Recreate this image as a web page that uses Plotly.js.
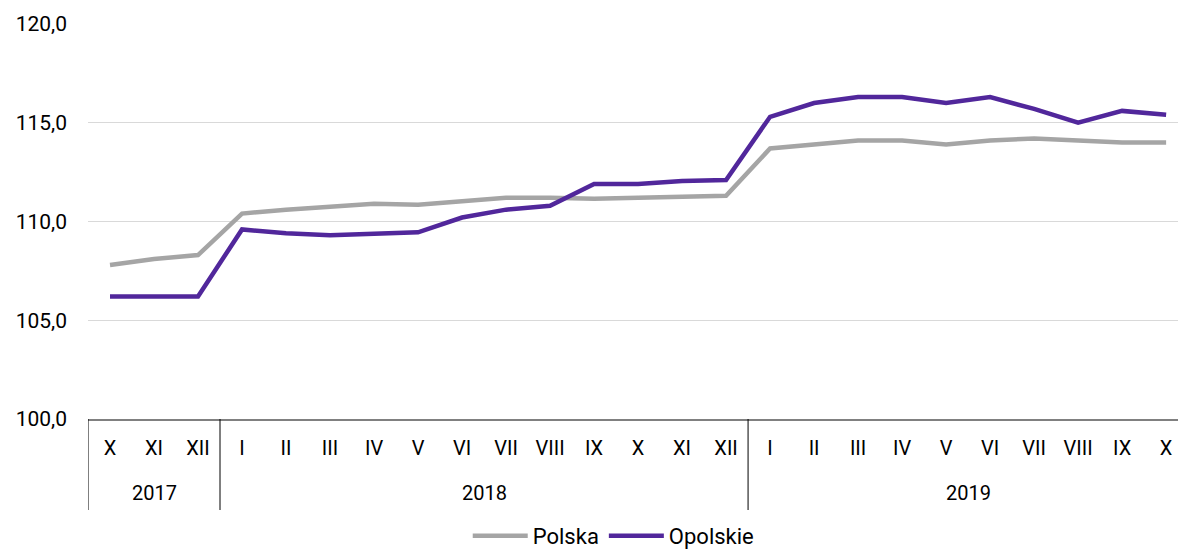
<!DOCTYPE html>
<html>
<head>
<meta charset="utf-8">
<script src="https://cdn.plot.ly/plotly-3.0.1.min.js"></script>
<style>
  html, body { margin: 0; padding: 0; background: #ffffff; }
  #chart { width: 1178px; height: 557px; }
</style>
</head>
<body>
<div id="chart"></div>
<script>
// Data
const yearLabels = ['2017','2017','2017',
  '2018','2018','2018','2018','2018','2018','2018','2018','2018','2018','2018','2018',
  '2019','2019','2019','2019','2019','2019','2019','2019','2019','2019'];
const monthLabels = ['X','XI','XII',
  'I','II','III','IV','V','VI','VII','VIII','IX','X','XI','XII',
  'I','II','III','IV','V','VI','VII','VIII','IX','X'];
const polska = [107.8, 108.1, 108.3,
  110.4, 110.6, 110.75, 110.9, 110.85, 111.05, 111.2, 111.2, 111.15, 111.2, 111.25, 111.3,
  113.7, 113.9, 114.1, 114.1, 113.9, 114.1, 114.2, 114.1, 114.0, 114.0];
const opolskie = [106.2, 106.2, 106.2,
  109.6, 109.4, 109.3, 109.4, 109.45, 110.2, 110.6, 110.8, 111.9, 111.9, 112.05, 112.1,
  115.3, 116.0, 116.3, 116.3, 116.0, 116.3, 115.7, 115.0, 115.6, 115.4];
const seriesNames = ['Polska', 'Opolskie'];

const FONT = 'Roboto, "Noto Sans", sans-serif';
const idx = monthLabels.map((_, i) => i);

// Year groups: boundaries and centres derived from yearLabels
const groups = [];
yearLabels.forEach((y, i) => {
  const g = groups[groups.length - 1];
  if (!g || g.label !== y) groups.push({ label: y, start: i, end: i });
  else g.end = i;
});

const AXIS_BOTTOM = -0.2304;   // divider lines extend below the axis (paper units)
const YEAR_Y = -0.187;

const shapes = groups.map(g => ({
  type: 'line', xref: 'x', yref: 'paper',
  x0: g.start - 0.5, x1: g.start - 0.5, y0: 0, y1: AXIS_BOTTOM,
  line: { color: '#000000', width: 1 }
}));

const annotations = groups.map(g => ({
  xref: 'x', yref: 'paper', x: (g.start + g.end) / 2, y: YEAR_Y,
  text: g.label, showarrow: false, xanchor: 'center', yanchor: 'middle',
  font: { family: FONT, size: 20, color: '#000000' }
}));

const traces = [
  { type: 'scatter', mode: 'lines', name: seriesNames[0], x: idx, y: polska,
    line: { color: '#A5A5A5', width: 4.5 } },
  { type: 'scatter', mode: 'lines', name: seriesNames[1], x: idx, y: opolskie,
    line: { color: '#51279B', width: 4.5 } }
];

const layout = {
  width: 1178, height: 557,
  margin: { l: 88, r: 0, t: 24, b: 138 },
  paper_bgcolor: '#ffffff', plot_bgcolor: '#ffffff',
  separators: ', ',
  font: { family: FONT, size: 20, color: '#000000' },
  showlegend: true,
  legend: {
    orientation: 'h', xref: 'container', yref: 'container',
    x: 0.521, xanchor: 'center', y: 0.0, yanchor: 'bottom',
    font: { family: FONT, size: 22, color: '#000000' },
    itemwidth: 55, tracegroupgap: 0
  },
  xaxis: {
    type: 'linear',
    range: [-0.5, 24.27],
    tickmode: 'array', tickvals: idx, ticktext: monthLabels,
    showline: true, linecolor: '#808080', linewidth: 2,
    showgrid: false, zeroline: false, ticks: '',
    ticklabelstandoff: 10,
    tickfont: { family: FONT, size: 20, color: '#000000' }
  },
  yaxis: {
    range: [100, 120], dtick: 5, tick0: 100, tickformat: '.1f',
    showgrid: true, gridcolor: '#D9D9D9', gridwidth: 1,
    zeroline: false, showline: false, ticks: '',
    ticklabelstandoff: 20,
    tickfont: { family: FONT, size: 21, color: '#000000' }
  },
  shapes: shapes,
  annotations: annotations
};

Plotly.newPlot('chart', traces, layout, { displayModeBar: false, staticPlot: true });
</script>
</body>
</html>
